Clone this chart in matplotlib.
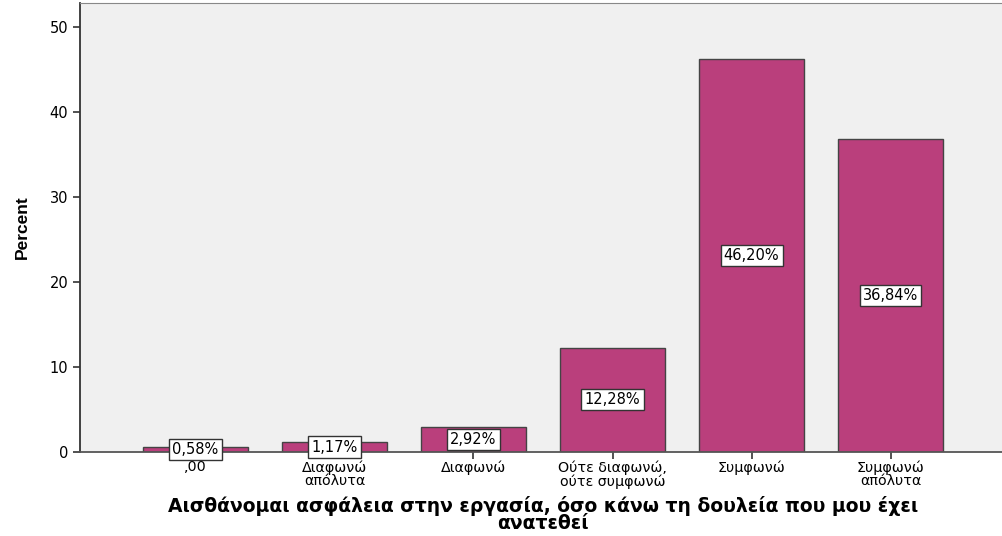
import matplotlib
matplotlib.use("Agg")
import matplotlib.pyplot as plt
import numpy as np

# categories and values (percent)
categories = [",00", "Διαφωνώ\nαπόλυτα", "Διαφωνώ", "Ούτε διαφωνώ,\nούτε συμφωνώ",
              "Συμφωνώ", "Συμφωνώ\nαπόλυτα"]
percents = [0.58, 1.17, 2.92, 12.28, 46.20, 36.84]
value_labels = ["0,58%", "1,17%", "2,92%", "12,28%", "46,20%", "36,84%"]

plt.rcParams['font.family'] = ['DejaVu Sans']

fig = plt.figure(figsize=(10.03, 5.36), dpi=100)
ax = fig.add_axes([80 / 1003, 1 - 452 / 536, 926 / 1003, 449 / 536])
ax.set_facecolor("#F0F0F0")

x = np.arange(len(categories))
ax.bar(x, percents, width=0.75, color="#BA3F7C", edgecolor="#444444", linewidth=1.0, zorder=2)

for xi, p, lab in zip(x, percents, value_labels):
    ax.text(xi, p / 2, lab, ha="center", va="center", fontsize=10.5, zorder=3,
            bbox=dict(boxstyle="square,pad=0.22", facecolor="white", edgecolor="#333333", linewidth=1))

ax.set_xlim(-0.83, 5.83)
ax.set_ylim(0, 52.8)
ax.set_yticks([0, 10, 20, 30, 40, 50])
ax.set_xticks(x)
ax.set_xticklabels(categories, fontsize=10.3, linespacing=0.95)
ax.tick_params(axis="y", labelsize=10.5, length=5, width=1.2, color="#333333")
ax.tick_params(axis="x", length=5, width=1.2, color="#333333", pad=1)

ax.spines["right"].set_visible(False)
ax.spines["top"].set_color("#888888")
ax.spines["left"].set_color("#333333")
ax.spines["bottom"].set_color("#555555")
ax.spines["left"].set_linewidth(1.3)
ax.spines["bottom"].set_linewidth(1.3)

ax.set_ylabel("Percent", fontsize=12.5, fontweight="bold", family="Liberation Sans", labelpad=14)
ax.set_xlabel("Αισθάνομαι ασφάλεια στην εργασία, όσο κάνω τη δουλεία που μου έχει\nανατεθεί",
              fontsize=13.5, fontweight="bold", labelpad=5, linespacing=0.9)

fig.savefig("out.png", dpi=100)
